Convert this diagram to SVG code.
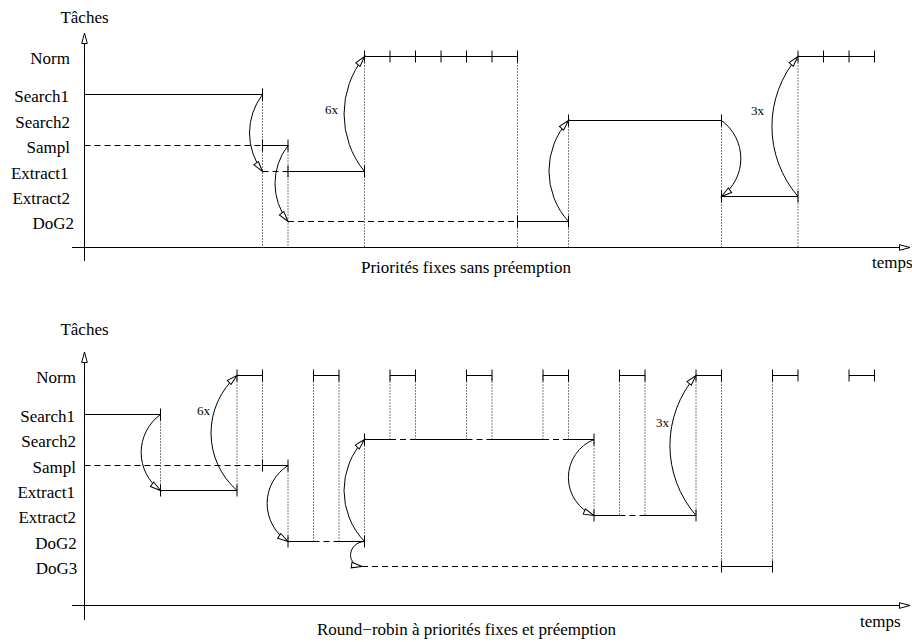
<svg xmlns="http://www.w3.org/2000/svg" width="912" height="642" viewBox="0 0 912 642">
<style>
text{font-family:"Liberation Serif","Times New Roman",serif;fill:#000}
.lbl{font-size:17px;text-anchor:end}
.ttl{font-size:17px;text-anchor:middle}
.t{font-size:17px}
.small{font-size:13px}
.s{stroke:#000;stroke-width:1;fill:none}
.d{stroke:#000;stroke-width:1;fill:none;stroke-dasharray:6 4}
.o{stroke:#000;stroke-width:1;fill:none;stroke-dasharray:1 2}
.ax{stroke:#000;stroke-width:1;fill:none;marker-end:url(#ah)}
.arc{stroke:#000;stroke-width:1;fill:none;marker-end:url(#ah)}
</style>
<defs>
<marker id="ah" markerUnits="userSpaceOnUse" markerWidth="14" markerHeight="10" refX="11" refY="3.5" orient="auto" overflow="visible">
<path d="M0.5,0.7 L11,3.5 L0.5,6.3 Z" fill="#fff" stroke="#000" stroke-width="1"/>
</marker>
</defs>

<!-- ===== TOP DIAGRAM ===== -->
<g id="top-axes">
<path class="ax" d="M72,247.5 H910"/>
<path class="ax" d="M84.5,261 V33"/>
<text class="ttl" x="84.5" y="23">Tâches</text>
<text class="t" x="872" y="268">temps</text>
<text class="ttl" x="466" y="273">Priorités fixes sans préemption</text>
</g>

<g id="top-Norm">
<text class="lbl" x="70" y="63.5">Norm</text>
<path class="s" d="M364.5,56.5 H517.5 M798,56.5 H874.5"/>
<path class="s" d="M364.5,50.5 v12 M390,50.5 v12 M415.5,50.5 v12 M441,50.5 v12 M466.5,50.5 v12 M492,50.5 v12 M517.5,50.5 v12 M798,50.5 v12 M823.5,50.5 v12 M849,50.5 v12 M874.5,50.5 v12"/>
</g>
<g id="top-Search1">
<text class="lbl" x="69" y="101.5">Search1</text>
<path class="s" d="M84.5,94.5 H262.5 M262.5,88.5 v12"/>
</g>
<g id="top-Search2">
<text class="lbl" x="70" y="127.5">Search2</text>
<path class="s" d="M568.5,120.5 H721.5 M568.5,114.5 v12 M721.5,114.5 v12"/>
</g>
<g id="top-Sampl">
<text class="lbl" x="70" y="152.5">Sampl</text>
<path class="d" d="M84.5,145.5 H262.5"/>
<path class="s" d="M262.5,145.5 H288 M262.5,139.5 v12 M288,139.5 v12"/>
</g>
<g id="top-Extract1">
<text class="lbl" x="68.5" y="178.5">Extract1</text>
<path class="d" d="M262.5,171.5 H288"/>
<path class="s" d="M288,171.5 H364.5 M288,165.5 v12 M364.5,165.5 v12"/>
</g>
<g id="top-Extract2">
<text class="lbl" x="70" y="203.5">Extract2</text>
<path class="s" d="M721.5,196.5 H798 M721.5,190.5 v12 M798,190.5 v12"/>
</g>
<g id="top-DoG2">
<text class="lbl" x="74" y="228.5">DoG2</text>
<path class="d" d="M288,221.5 H517.5"/>
<path class="s" d="M517.5,221.5 H568.5 M517.5,215.5 v12 M568.5,215.5 v12"/>
</g>
<g id="top-dotted">
<path class="o" d="M262.5,94.5 V247.5 M288,145.5 V247.5 M364.5,56.5 V247.5 M517.5,56.5 V247.5 M568.5,120.5 V247.5 M721.5,120.5 V247.5 M798,56.5 V247.5"/>
</g>
<g id="top-connectors">
<path class="arc" d="M262.5,94.5 A63.5,63.5 0 0 0 262.5,171.5"/>
<path class="arc" d="M288,145.5 A62,62 0 0 0 288,221.5"/>
<path class="arc" d="M364.5,171.5 A91,91 0 0 1 364.5,56.5"/>
<path class="arc" d="M568.5,221.5 A75,75 0 0 1 568.5,120.5"/>
<path class="arc" d="M721.5,120.5 A47,47 0 0 1 721.5,196.5"/>
<path class="arc" d="M798,196.5 A107,107 0 0 1 798,56.5"/>
<text class="small" x="325" y="114">6x</text>
<text class="small" x="751" y="115">3x</text>
</g>

<!-- ===== BOTTOM DIAGRAM ===== -->
<g id="bot-axes">
<path class="ax" d="M72,605.5 H910"/>
<path class="ax" d="M84.5,620 V352"/>
<text class="ttl" x="84.5" y="335">Tâches</text>
<text class="t" x="860" y="627">temps</text>
<text class="ttl" x="466.5" y="635">Round−robin à priorités fixes et préemption</text>
</g>

<g id="bot-Norm">
<text class="lbl" x="76" y="382.5">Norm</text>
<path class="s" d="M237,375.5 H262.5 M313.5,375.5 H339 M390,375.5 H415.5 M466.5,375.5 H492 M543,375.5 H568.5 M619.5,375.5 H645 M696,375.5 H721.5 M772.5,375.5 H798 M849,375.5 H874.5"/>
<path class="s" d="M237,369.5 v12 M262.5,369.5 v12 M313.5,369.5 v12 M339,369.5 v12 M390,369.5 v12 M415.5,369.5 v12 M466.5,369.5 v12 M492,369.5 v12 M543,369.5 v12 M568.5,369.5 v12 M619.5,369.5 v12 M645,369.5 v12 M696,369.5 v12 M721.5,369.5 v12 M772.5,369.5 v12 M798,369.5 v12 M849,369.5 v12 M874.5,369.5 v12"/>
</g>
<g id="bot-Search1">
<text class="lbl" x="75" y="421.5">Search1</text>
<path class="s" d="M84.5,414.5 H160.5 M160.5,408.5 v12"/>
</g>
<g id="bot-Search2">
<text class="lbl" x="76" y="446.5">Search2</text>
<path class="s" d="M364.5,439.5 H390 M415.5,439.5 H466.5 M492,439.5 H543 M568.5,439.5 H594 M364.5,433.5 v12 M594,433.5 v12"/>
<path class="d" d="M390,439.5 H415.5 M466.5,439.5 H492 M543,439.5 H568.5"/>
</g>
<g id="bot-Sampl">
<text class="lbl" x="76" y="472.5">Sampl</text>
<path class="d" d="M84.5,465.5 H262.5"/>
<path class="s" d="M262.5,465.5 H288 M262.5,459.5 v12 M288,459.5 v12"/>
</g>
<g id="bot-Extract1">
<text class="lbl" x="75" y="497.5">Extract1</text>
<path class="s" d="M160.5,490.5 H237 M160.5,484.5 v12 M237,484.5 v12"/>
</g>
<g id="bot-Extract2">
<text class="lbl" x="76" y="522.5">Extract2</text>
<path class="s" d="M594,515.5 H619.5 M645,515.5 H696 M594,509.5 v12 M696,509.5 v12"/>
<path class="d" d="M619.5,515.5 H645"/>
</g>
<g id="bot-DoG2">
<text class="lbl" x="76.7" y="548.5">DoG2</text>
<path class="s" d="M288,541.5 H313.5 M339,541.5 H364.5 M288,535.5 v12 M364.5,535.5 v12"/>
<path class="d" d="M313.5,541.5 H339"/>
</g>
<g id="bot-DoG3">
<text class="lbl" x="77.3" y="573.5">DoG3</text>
<path class="d" d="M362,566.5 H721.5"/>
<path class="s" d="M721.5,566.5 H772.5 M721.5,560.5 v12 M772.5,560.5 v12"/>
</g>
<g id="bot-dotted">
<path class="o" d="M160.5,414.5 V490.5 M237,375.5 V490.5 M262.5,375.5 V465.5 M288,465.5 V541.5 M313.5,375.5 V541.5 M339,375.5 V541.5 M364.5,439.5 V541.5 M390,375.5 V439.5 M415.5,375.5 V439.5 M466.5,375.5 V439.5 M492,375.5 V439.5 M543,375.5 V439.5 M568.5,375.5 V439.5 M594,439.5 V515.5 M619.5,375.5 V515.5 M645,375.5 V515.5 M696,375.5 V515.5 M721.5,375.5 V566.5 M772.5,375.5 V566.5"/>
</g>
<g id="bot-connectors">
<path class="arc" d="M160.5,414.5 A47,47 0 0 0 160.5,490.5"/>
<path class="arc" d="M237,490.5 A76.6,76.6 0 0 1 237,375.5"/>
<path class="arc" d="M288,465.5 A45,45 0 0 0 288,541.5"/>
<path class="arc" d="M364.5,541.5 A73.7,73.7 0 0 1 364.5,439.5"/>
<path class="arc" d="M364.5,541.5 C349,542 344,564 362,566.5"/>
<path class="arc" d="M594,439.5 A41,41 0 0 0 594,515.5"/>
<path class="arc" d="M696,515.5 A107,107 0 0 1 696,375.5"/>
<text class="small" x="197" y="415">6x</text>
<text class="small" x="656" y="427">3x</text>
</g>
</svg>
